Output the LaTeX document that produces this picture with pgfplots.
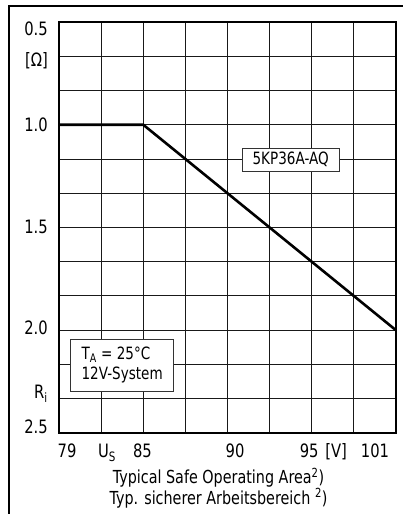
\documentclass[border=0pt]{standalone}
\usepackage{pgfplots}
\pgfplotsset{compat=1.18}
\usepackage{fontspec}
\setmainfont{DejaVu Sans}[FakeStretch=0.8]
\begin{document}
\begin{tikzpicture}[x=1bp,y=1bp]
\useasboundingbox (0,0) rectangle (403,514);
% outer frame (clipped at right and bottom)
\draw[line width=1.3bp] (9,0) -- (9,508) -- (403,508);
\begin{axis}[
  at={(59bp,81bp)}, anchor=south west,
  scale only axis,
  width=337bp, height=411bp,
  xmin=80, xmax=100,
  ymin=0.5, ymax=2.5,
  y dir=reverse,
  axis line style={line width=2bp},
  major tick length=0pt, minor tick length=0pt,
  grid=minor,
  minor grid style={line width=1bp, black!90},
  minor xtick={82.5,85,87.5,90,92.5,95,97.5},
  minor ytick={0.6667,0.8333,1,1.1667,1.3333,1.5,1.6667,1.8333,2,2.1667,2.3333},
  xtick={80.475,82.85,84.95,90.45,94.85,96.45,98.75},
  xticklabels={79,U\textsubscript{S},85,90,95,[V],101},
  ytick={0.536,0.685,1.0,1.5,1.99,2.30,2.473},
  yticklabels={0.5,[Ω],1.0,1.5,2.0,R\textsubscript{i},2.5},
  every tick label/.append style={font=\fontsize{18.5}{21}\selectfont},
  xticklabel style={anchor=base, inner sep=0pt, yshift=-24.5bp},
  yticklabel style={anchor=base east, inner sep=0pt, xshift=-11bp, yshift=-6.5bp},
  clip=false,
]
\addplot[black, line width=2.6bp, line join=miter] coordinates {
  (80,1.0) (85,1.0) (100,2.0)
};
\node[draw=black!80, line width=0.8bp, fill=white, inner sep=0bp,
      minimum width=97bp, minimum height=23bp,
      font=\fontsize{17}{19}\selectfont]
  at (axis cs:93.75,1.169) {5KP36A-AQ};
\node[draw=black!80, line width=0.8bp, fill=white, align=left,
      minimum width=103bp, minimum height=52bp, inner sep=0bp,
      font=\fontsize{17}{20}\selectfont]
  at (axis cs:83.75,2.17) {T\textsubscript{A} = 25°C\\12V-System};
\end{axis}
\node[align=center, font=\fontsize{18}{20.5}\selectfont] at (218.5,26)
  {Typical Safe Operating Area\textsuperscript{2})\\Typ. sicherer Arbeitsbereich \textsuperscript{2})};
\end{tikzpicture}
\end{document}
